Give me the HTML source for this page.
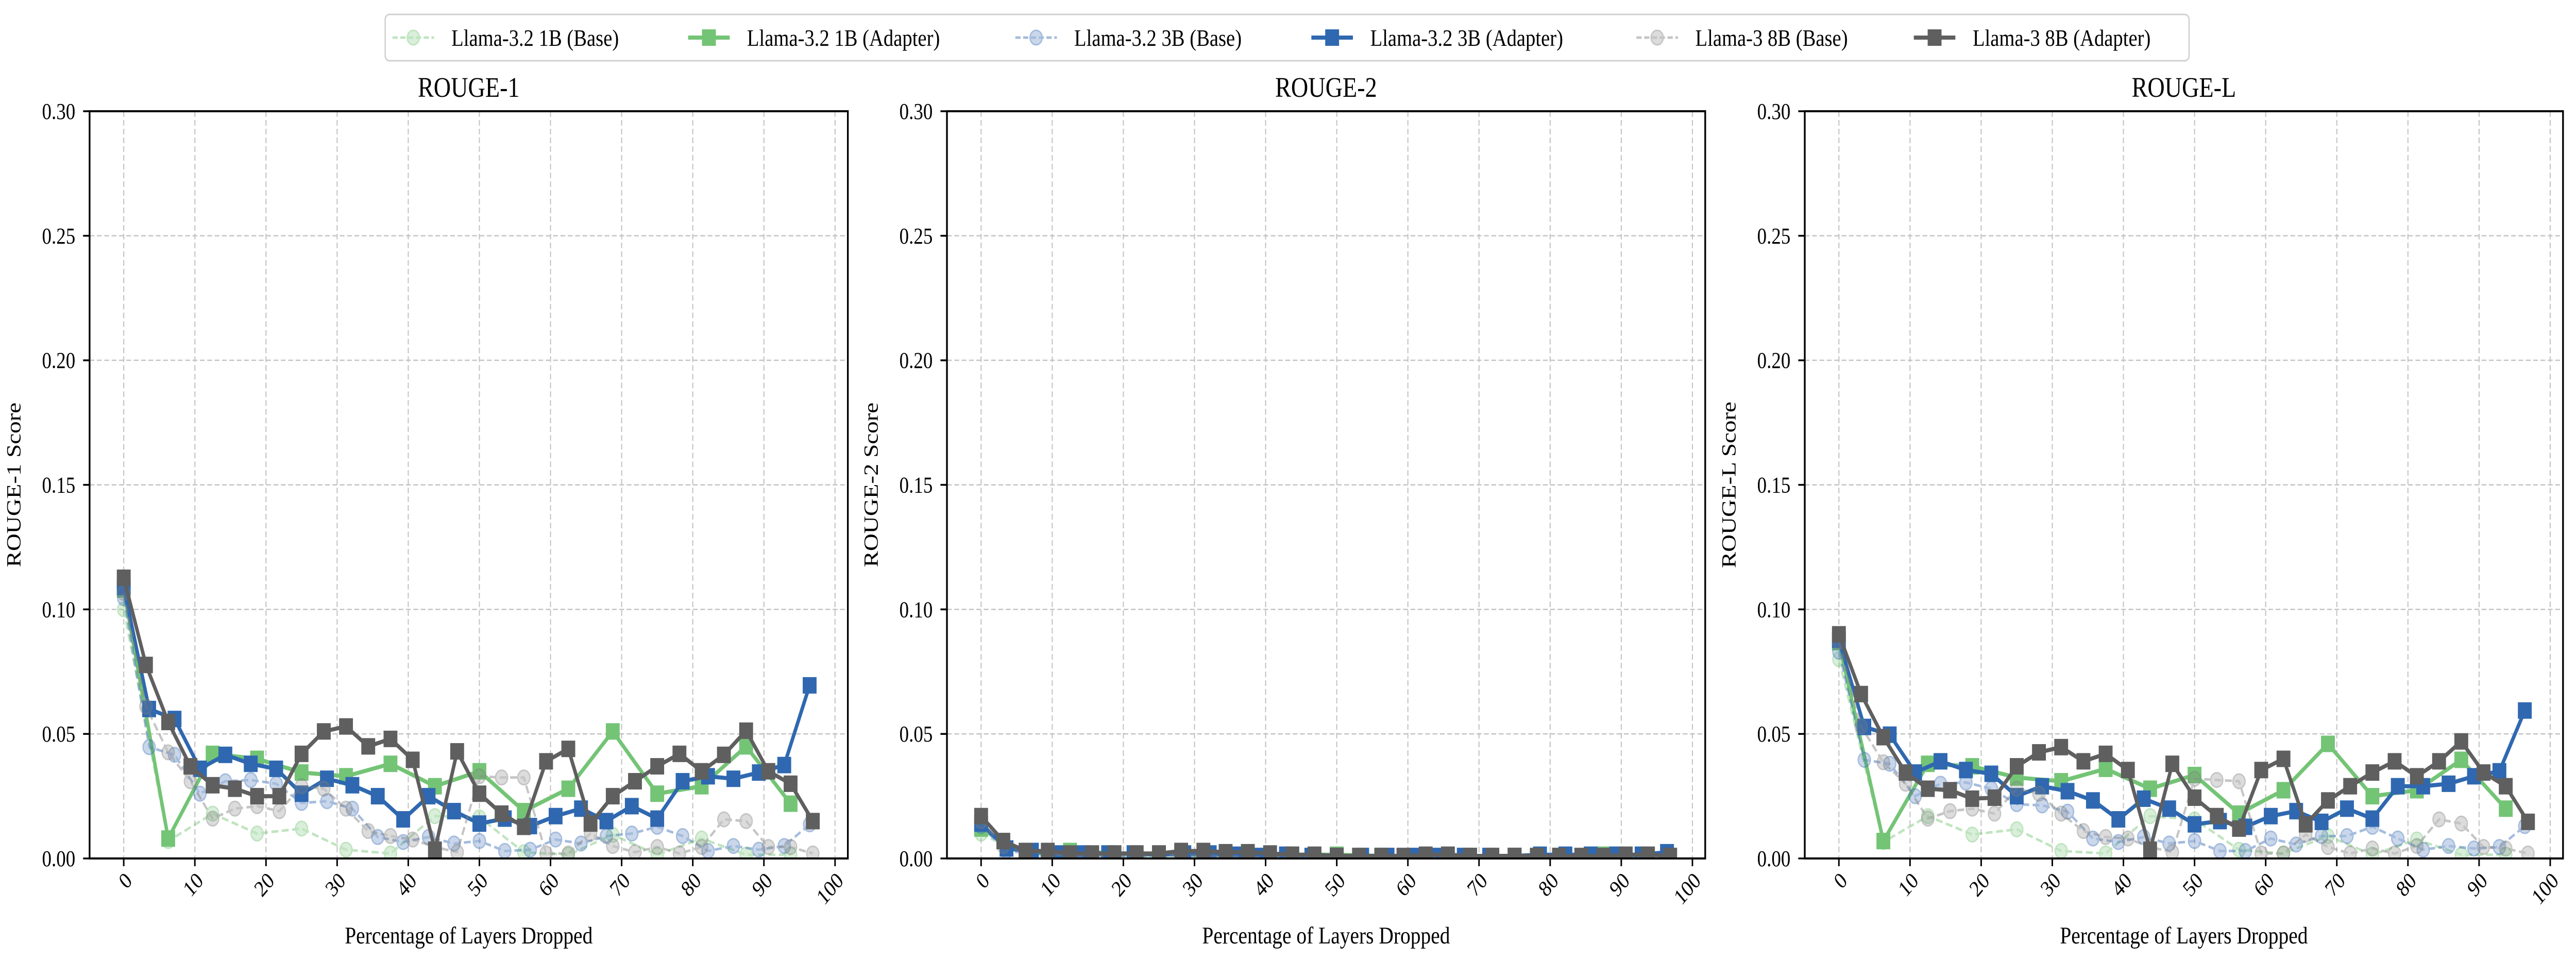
<!DOCTYPE html>
<html><head><meta charset="utf-8"><style>
html,body{margin:0;padding:0;background:#fff;overflow:hidden;width:100vw;height:100vh;}
svg{display:block;width:100vw;height:100vh;}
svg text{font-family:"Liberation Serif",serif;fill:#000;}
</style></head><body>
<svg id="fig" viewBox="0 0 5952 1870" preserveAspectRatio="none" xmlns="http://www.w3.org/2000/svg"></svg>
<script>
const NS="http://www.w3.org/2000/svg";
const xTicks=[0,10,20,30,40,50,60,70,80,90,100];
const yTicks=[0,0.05,0.10,0.15,0.20,0.25,0.30];
const yTickLabels=["0.00","0.05","0.10","0.15","0.20","0.25","0.30"];
const panelTitles=["ROUGE-1","ROUGE-2","ROUGE-L"];
const yLabels=["ROUGE-1 Score","ROUGE-2 Score","ROUGE-L Score"];
const seriesNames=["Llama-3.2 1B (Base)","Llama-3.2 1B (Adapter)","Llama-3.2 3B (Base)","Llama-3.2 3B (Adapter)","Llama-3 8B (Base)","Llama-3 8B (Adapter)"];
const layerCounts=[16,16,28,28,32,32];
// ROUGE-1
const r1_1b_base=[0.100,0.007,0.018,0.010,0.012,0.0035,0.002,0.017,0.0165,0.0025,0.0015,0.0095,0.0015,0.008,0.0015,0.0015];
const r1_1b_adapter=[0.108,0.008,0.042,0.040,0.0345,0.033,0.038,0.029,0.035,0.019,0.028,0.051,0.026,0.029,0.045,0.022];
const r1_3b_base=[0.1045,0.0447,0.0416,0.026,0.031,0.0315,0.030,0.0223,0.023,0.020,0.0086,0.0066,0.0086,0.006,0.007,0.003,0.0035,0.0076,0.006,0.009,0.010,0.0127,0.009,0.003,0.005,0.0035,0.005,0.0137];
const r1_3b_adapter=[0.109,0.060,0.056,0.036,0.0416,0.038,0.036,0.026,0.032,0.0294,0.025,0.0157,0.025,0.019,0.014,0.016,0.013,0.017,0.020,0.015,0.021,0.016,0.031,0.033,0.032,0.0345,0.0375,0.0695];
const r1_8b_base=[0.1066,0.061,0.0426,0.031,0.016,0.020,0.021,0.019,0.029,0.028,0.020,0.011,0.009,0.0076,0.0046,0.0025,0.033,0.0325,0.0325,0.002,0.002,0.010,0.005,0.0025,0.0046,0.002,0.0046,0.0157,0.015,0.0046,0.0046,0.002];
const r1_8b_adapter=[0.1127,0.0777,0.0548,0.037,0.0294,0.028,0.025,0.025,0.042,0.051,0.053,0.045,0.048,0.0396,0.0035,0.043,0.026,0.018,0.0127,0.039,0.044,0.014,0.025,0.031,0.037,0.042,0.035,0.0416,0.0513,0.035,0.030,0.015];
// ROUGE-2
const r2_1b_base=[0.010,0.001,0.001,0.001,0.001,0.0005,0.0005,0.001,0.001,0.0005,0.0005,0.0005,0.0005,0.0005,0.0005,0.0005];
const r2_1b_adapter=[0.012,0.002,0.003,0.002,0.002,0.0015,0.002,0.0015,0.0015,0.001,0.001,0.001,0.001,0.001,0.0015,0.001];
const r2_3b_base=[0.013,0.003,0.002,0.0015,0.0015,0.001,0.001,0.001,0.001,0.001,0.0005,0.0005,0.0005,0.0005,0.0005,0.0005,0.0005,0.0005,0.0005,0.0005,0.0005,0.0005,0.0005,0.0005,0.0005,0.0005,0.0005,0.001];
const r2_3b_adapter=[0.014,0.004,0.003,0.002,0.002,0.002,0.002,0.0015,0.002,0.002,0.0015,0.001,0.0015,0.001,0.001,0.001,0.001,0.001,0.001,0.001,0.001,0.001,0.0015,0.0015,0.0015,0.0015,0.0015,0.0025];
const r2_8b_base=[0.015,0.005,0.003,0.002,0.001,0.001,0.001,0.001,0.0015,0.0015,0.001,0.001,0.0005,0.0005,0.0005,0.0005,0.001,0.001,0.001,0.0005,0.0005,0.0005,0.0005,0.0005,0.0005,0.0005,0.0005,0.0005,0.0005,0.0005,0.0005,0.0005];
const r2_8b_adapter=[0.017,0.007,0.003,0.003,0.002,0.002,0.002,0.002,0.002,0.003,0.003,0.0025,0.0025,0.002,0.0015,0.0015,0.001,0.001,0.001,0.001,0.0015,0.0015,0.001,0.001,0.001,0.001,0.001,0.001,0.001,0.0015,0.0015,0.001];
// ROUGE-L
const rl_1b_base=[0.080,0.0066,0.017,0.0096,0.0117,0.003,0.002,0.017,0.0157,0.0035,0.002,0.009,0.0015,0.0076,0.0015,0.0015];
const rl_1b_adapter=[0.0868,0.007,0.038,0.037,0.0325,0.031,0.036,0.028,0.0335,0.018,0.0274,0.046,0.025,0.0274,0.0396,0.020];
const rl_3b_base=[0.083,0.0396,0.038,0.025,0.030,0.0305,0.028,0.0218,0.0213,0.0188,0.008,0.0066,0.0086,0.006,0.007,0.003,0.003,0.008,0.0056,0.009,0.009,0.0127,0.008,0.0035,0.005,0.004,0.0046,0.013];
const rl_3b_adapter=[0.0878,0.0528,0.0497,0.0345,0.039,0.0355,0.034,0.025,0.029,0.027,0.0233,0.0157,0.024,0.020,0.0137,0.015,0.0127,0.017,0.019,0.0147,0.020,0.016,0.029,0.029,0.030,0.033,0.035,0.0594];
const rl_8b_base=[0.087,0.053,0.0386,0.030,0.016,0.019,0.020,0.018,0.028,0.026,0.018,0.011,0.0086,0.008,0.0046,0.0025,0.032,0.0315,0.031,0.002,0.002,0.0096,0.0046,0.002,0.004,0.002,0.005,0.0157,0.014,0.0046,0.004,0.002];
const rl_8b_adapter=[0.090,0.066,0.0487,0.0345,0.028,0.0274,0.024,0.0244,0.037,0.0426,0.0447,0.039,0.042,0.0355,0.0035,0.038,0.0244,0.017,0.012,0.0355,0.040,0.0137,0.0233,0.029,0.0345,0.039,0.033,0.039,0.047,0.0345,0.029,0.0147];

const panelData=[
 [r1_1b_base,r1_1b_adapter,r1_3b_base,r1_3b_adapter,r1_8b_base,r1_8b_adapter],
 [r2_1b_base,r2_1b_adapter,r2_3b_base,r2_3b_adapter,r2_8b_base,r2_8b_adapter],
 [rl_1b_base,rl_1b_adapter,rl_3b_base,rl_3b_adapter,rl_8b_base,rl_8b_adapter]];
const colors=["#74c476","#74c476","#3a6db5","#2f68b0","#7f7f7f","#5f5f5f"];
const isBase=[true,false,true,false,true,false];

const svg=document.getElementById('fig');
function el(tag,attrs,parent){const e=document.createElementNS(NS,tag);for(const k in attrs)e.setAttribute(k,attrs[k]);(parent||svg).appendChild(e);return e;}

const panelLefts=[207,2188,4170];
const PW=1752, PTOP=216, PBOT=1667;
const XMIN=-4.8, XMAX=101.8, YMIN=0, YMAX=0.30;

panelLefts.forEach((L,p)=>{
  const g=el('g',{});
  
  
  const xs=v=>L+(v-XMIN)/(XMAX-XMIN)*PW;
  const ys=v=>PBOT-(v-YMIN)/(YMAX-YMIN)*(PBOT-PTOP);
  xTicks.forEach(t=>{const l=el('line',{x1:xs(t),x2:xs(t),y1:PTOP,y2:PBOT,stroke:'#c4c4c4','stroke-width':2.5,'stroke-dasharray':'11 6'},g);
    });
  yTicks.forEach(t=>{const l=el('line',{x1:L,x2:L+PW,y1:ys(t),y2:ys(t),stroke:'#c4c4c4','stroke-width':2.5,'stroke-dasharray':'11 6'},g);
    });
  const clip=el('clipPath',{id:'clip'+p},g);
  el('rect',{x:L,y:PTOP-40,width:PW,height:PBOT-PTOP+40},clip);
  const sg=el('g',{'clip-path':'url(#clip'+p+')'},g);
  panelData[p].forEach((vals,s)=>{
    const n=layerCounts[s];
    const pts=vals.map((v,i)=>[xs(i*100/n),ys(v)]);
    const ser=el('g',{opacity:isBase[s]?0.45:1},sg);
    
    
    const pl=el('polyline',{points:pts.map(q=>q.join(',')).join(' '),fill:'none',stroke:colors[s],'stroke-width':isBase[s]?5:8,'stroke-linejoin':'round'},ser);
    if(isBase[s])pl.setAttribute('stroke-dasharray','16 8');
    
    
    pts.forEach(q=>{
      let m;
      if(isBase[s]) m=el('circle',{cx:q[0],cy:q[1],r:14,fill:colors[s],'fill-opacity':0.6,stroke:colors[s],'stroke-width':3},ser);
      else m=el('rect',{x:q[0]-16,y:q[1]-16,width:32,height:32,fill:colors[s]},ser);
      
      
    });
  });
  const sp=el('rect',{x:L,y:PTOP,width:PW,height:PBOT-PTOP,fill:'none',stroke:'#000','stroke-width':4},g);
  
  xTicks.forEach(t=>{
    el('line',{x1:xs(t),x2:xs(t),y1:PBOT,y2:PBOT+15,stroke:'#000','stroke-width':3.5},g);
    const x=xs(t), y=PBOT+30;
    const tx=el('text',{x:x,y:y,'font-size':44,'text-anchor':'end',transform:`rotate(-45 ${x} ${y})`,dy:'0.6em',dx:'0.1em'},g);
    tx.textContent=t;
    
  });
  yTicks.forEach((t,i)=>{
    el('line',{x1:L-15,x2:L,y1:ys(t),y2:ys(t),stroke:'#000','stroke-width':3.5},g);
    const tx=el('text',{x:L-33,y:ys(t)+15,'font-size':44,'text-anchor':'end'},g);
    tx.textContent=yTickLabels[i];
    
  });
  const ti=el('text',{x:L+PW/2,y:188,'font-size':55,'text-anchor':'middle'},g);
  ti.textContent=panelTitles[p];
  
  const xl=el('text',{x:L+PW/2,y:1832,'font-size':47,'text-anchor':'middle'},g);
  xl.textContent='Percentage of Layers Dropped';
  
  const yx=L-160, yy=(PTOP+PBOT)/2;
  const yl=el('text',{x:yx,y:yy,'font-size':47,'text-anchor':'middle',transform:`rotate(-90 ${yx} ${yy})`},g);
  yl.textContent=yLabels[p];
  
});

const lg=el('g',{});


el('rect',{x:890,y:28,width:4168,height:90,rx:10,fill:'#fff',stroke:'#d0d0d0','stroke-width':3},lg);
const legendCenters=[955,1638,2394,3078,3829,4470];
seriesNames.forEach((nm,s)=>{
  const c=legendCenters[s], cy=73;
  const e=el('g',{},lg);
  
  
  const gg=el('g',{opacity:isBase[s]?0.45:1},e);
  const ln=el('line',{x1:c-48,x2:c+48,y1:cy,y2:cy,stroke:colors[s],'stroke-width':isBase[s]?5:8},gg);
  if(isBase[s]){ln.setAttribute('stroke-dasharray','12 6');el('circle',{cx:c,cy:cy,r:14,fill:colors[s],'fill-opacity':0.6,stroke:colors[s],'stroke-width':3},gg);}
  else el('rect',{x:c-16,y:cy-16,width:32,height:32,fill:colors[s]},gg);
  const t=el('text',{x:c+88,y:cy+16,'font-size':46},e);
  t.textContent=nm;
});
</script>
</body></html>
